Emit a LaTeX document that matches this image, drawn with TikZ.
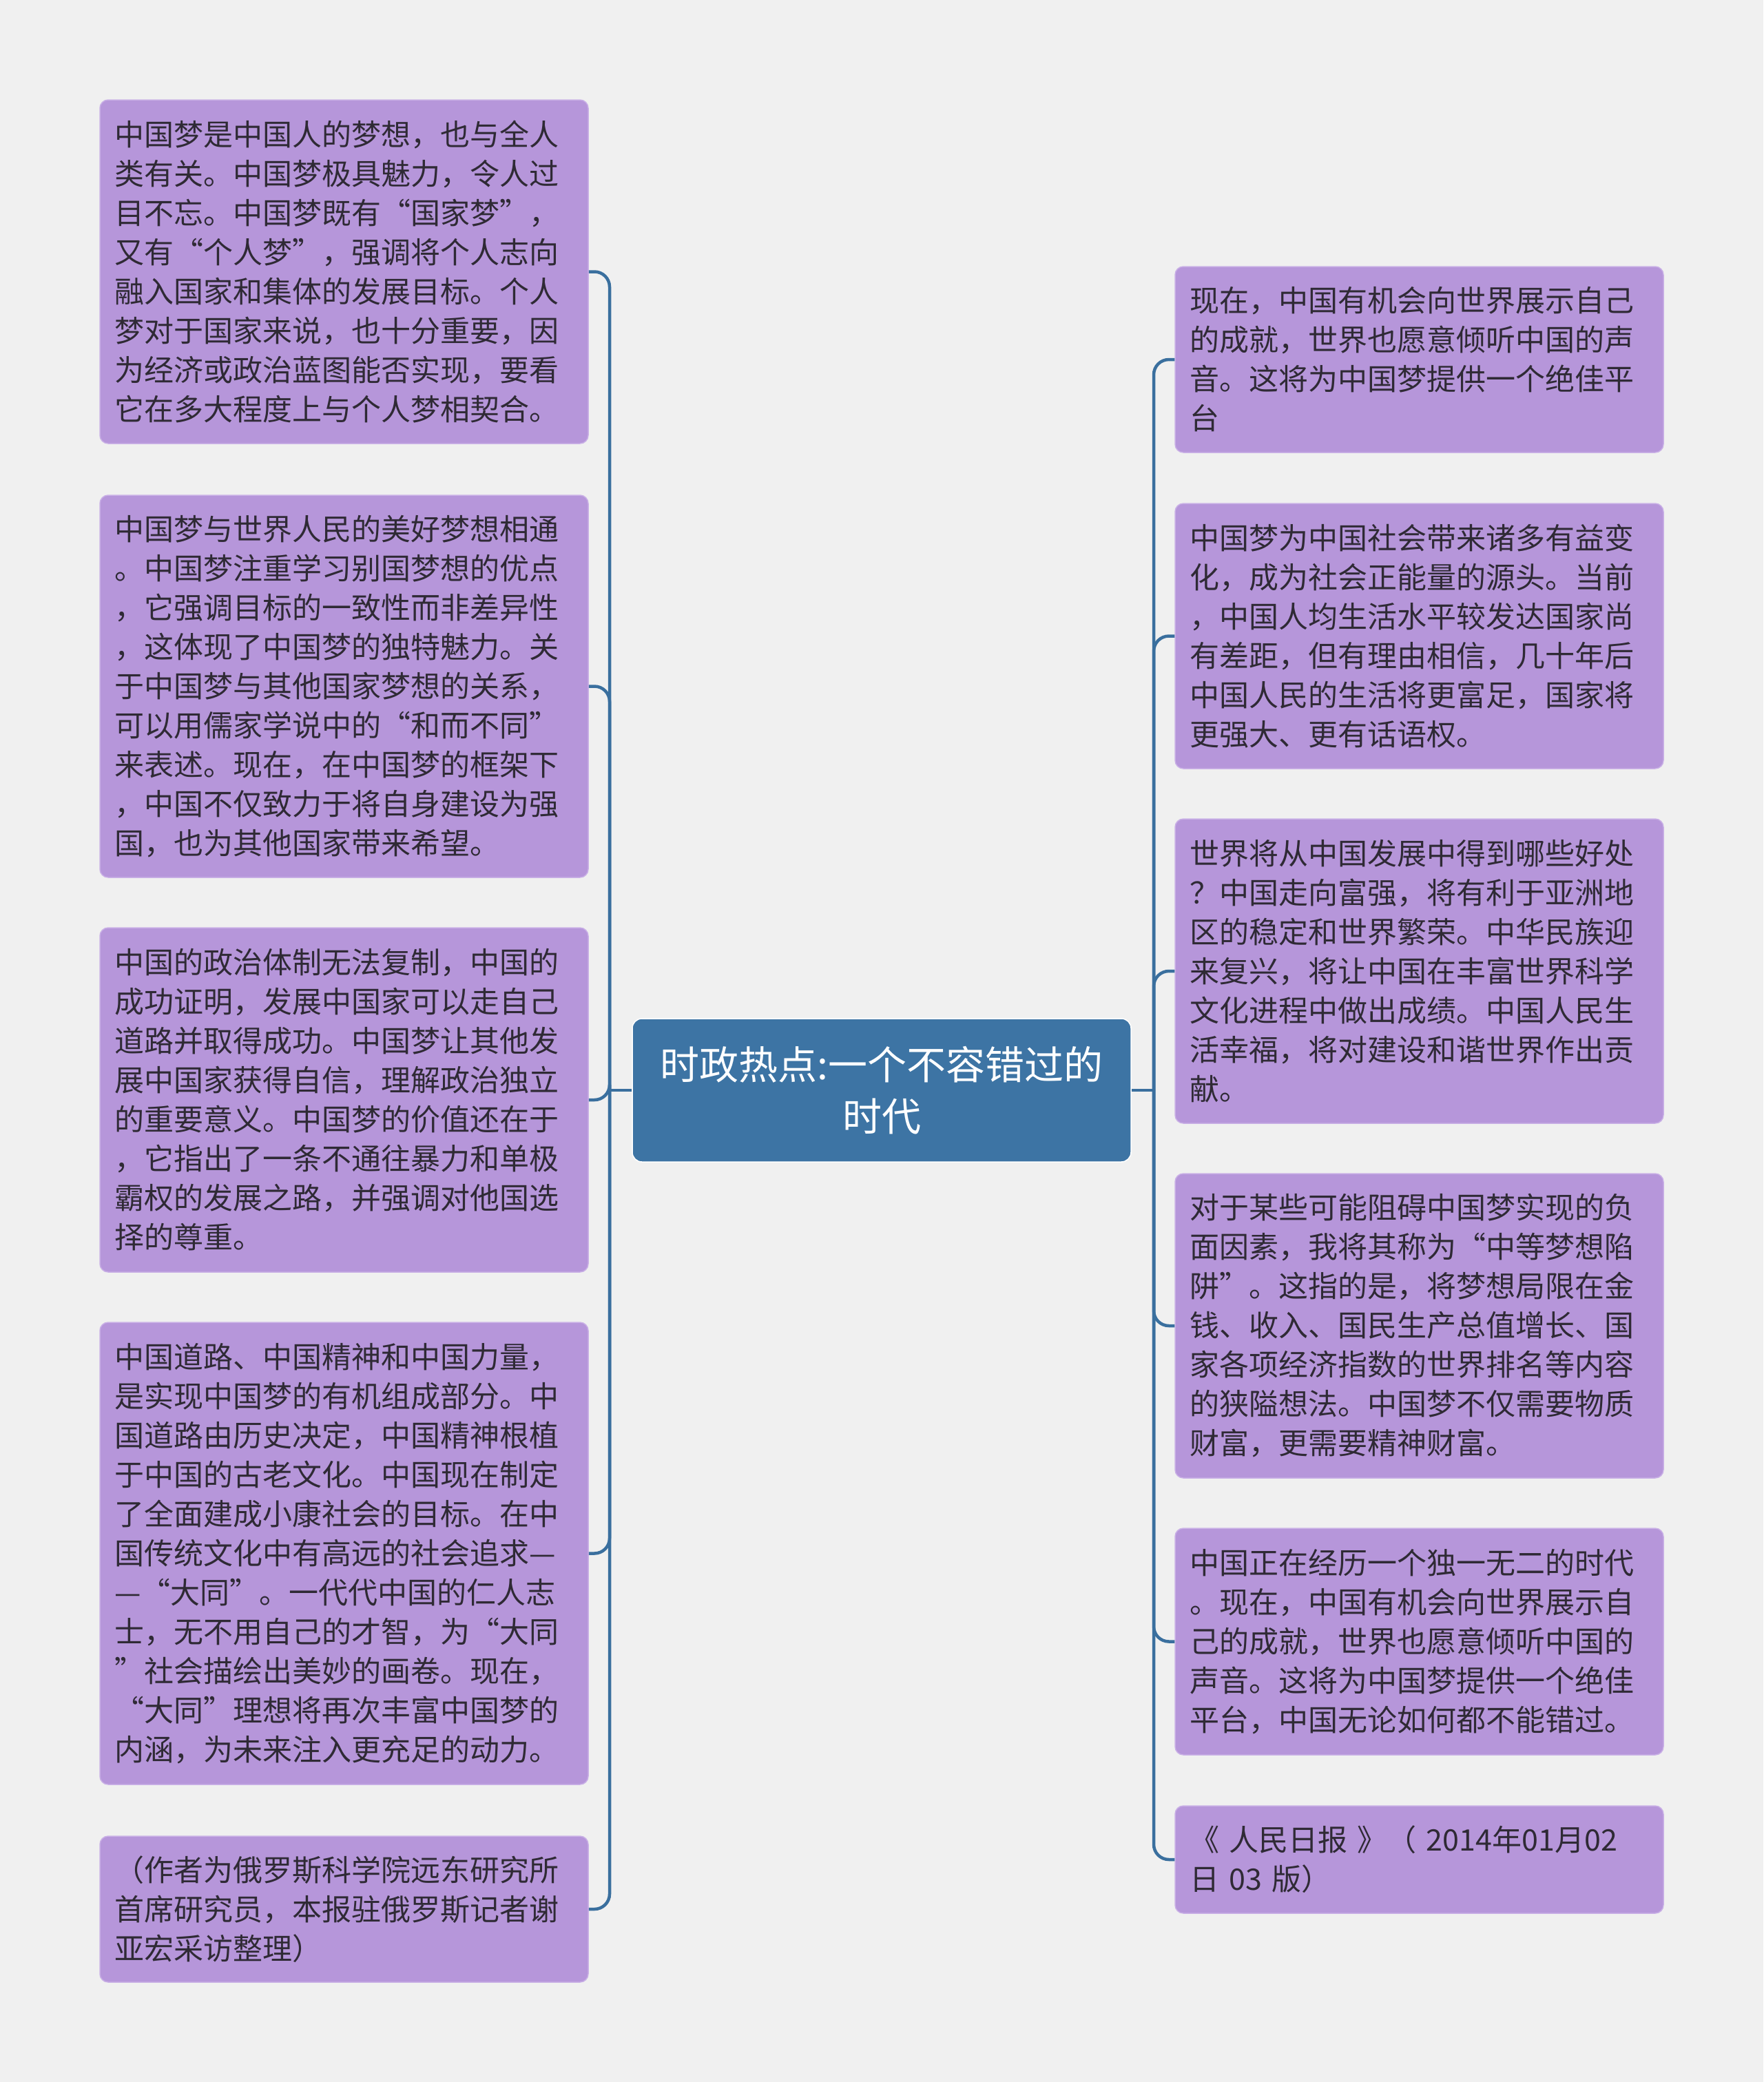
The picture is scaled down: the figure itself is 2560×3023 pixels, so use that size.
\documentclass[tikz,border=0pt]{standalone}
\usepackage{fontspec}
\setmainfont{Noto Sans CJK SC}
\definecolor{bg}{HTML}{F0F0F0}
\definecolor{leaf}{HTML}{B696DA}
\definecolor{leafline}{HTML}{C9B0E6}
\definecolor{rootfill}{HTML}{3D74A4}
\definecolor{conncol}{HTML}{3A6F9E}
\definecolor{txt}{HTML}{2F2A35}
\begin{document}
\begin{tikzpicture}[x=1pt,y=-1pt,
  leafbox/.style={draw=leafline, line width=1.5pt, fill=leaf, rounded corners=12pt,
    text=txt, font=\fontsize{43}{57}\selectfont, align=left,
    text width=667pt, inner xsep=21pt, inner ysep=0pt, minimum width=709pt},
  rootbox/.style={draw=white, line width=1.5pt, fill=rootfill, rounded corners=14pt,
    text=white, font=\fontsize{57}{75}\selectfont, align=center,
    text width=690pt, inner sep=0pt, minimum width=724pt, minimum height=208pt},
  conn/.style={draw=conncol, line width=4.5pt, rounded corners=22pt}]
\fill[bg] (0,0) rectangle (2560,3023);
\useasboundingbox (0,0) rectangle (2560,3023);

\node[rootbox] (c) at (1280,1583) {时政热点:一个不容错过的\\时代};

\node[leafbox, minimum height=499pt] (L1) at (499.5,394.5) {中国梦是中国人的梦想，也与全人\\类有关。中国梦极具魅力，令人过\\目不忘。中国梦既有“国家梦”，\\又有“个人梦”，强调将个人志向\\融入国家和集体的发展目标。个人\\梦对于国家来说，也十分重要，因\\为经济或政治蓝图能否实现，要看\\它在多大程度上与个人梦相契合。};
\node[leafbox, minimum height=555pt] (L2) at (499.5,996.5) {中国梦与世界人民的美好梦想相通\\。中国梦注重学习别国梦想的优点\\，它强调目标的一致性而非差异性\\，这体现了中国梦的独特魅力。关\\于中国梦与其他国家梦想的关系，\\可以用儒家学说中的“和而不同”\\来表述。现在，在中国梦的框架下\\，中国不仅致力于将自身建设为强\\国，也为其他国家带来希望。};
\node[leafbox, minimum height=500pt] (L3) at (499.5,1597) {中国的政治体制无法复制，中国的\\成功证明，发展中国家可以走自己\\道路并取得成功。中国梦让其他发\\展中国家获得自信，理解政治独立\\的重要意义。中国梦的价值还在于\\，它指出了一条不通往暴力和单极\\霸权的发展之路，并强调对他国选\\择的尊重。};
\node[leafbox, minimum height=671pt] (L4) at (499.5,2255.5) {中国道路、中国精神和中国力量，\\是实现中国梦的有机组成部分。中\\国道路由历史决定，中国精神根植\\于中国的古老文化。中国现在制定\\了全面建成小康社会的目标。在中\\国传统文化中有高远的社会追求—\\—“大同”。一代代中国的仁人志\\士，无不用自己的才智，为“大同\\”社会描绘出美妙的画卷。现在，\\“大同”理想将再次丰富中国梦的\\内涵，为未来注入更充足的动力。};
\node[leafbox, minimum height=212pt] (L5) at (499.5,2772) {（作者为俄罗斯科学院远东研究所\\首席研究员，本报驻俄罗斯记者谢\\亚宏采访整理）};

\node[leafbox, minimum height=270pt] (R1) at (2060.5,522) {现在，中国有机会向世界展示自己\\的成就，世界也愿意倾听中国的声\\音。这将为中国梦提供一个绝佳平\\台};
\node[leafbox, minimum height=385pt] (R2) at (2060.5,923.5) {中国梦为中国社会带来诸多有益变\\化，成为社会正能量的源头。当前\\，中国人均生活水平较发达国家尚\\有差距，但有理由相信，几十年后\\中国人民的生活将更富足，国家将\\更强大、更有话语权。};
\node[leafbox, minimum height=442pt] (R3) at (2060.5,1410) {世界将从中国发展中得到哪些好处\\？中国走向富强，将有利于亚洲地\\区的稳定和世界繁荣。中华民族迎\\来复兴，将让中国在丰富世界科学\\文化进程中做出成绩。中国人民生\\活幸福，将对建设和谐世界作出贡\\献。};
\node[leafbox, minimum height=442pt] (R4) at (2060.5,1925) {对于某些可能阻碍中国梦实现的负\\面因素，我将其称为“中等梦想陷\\阱”。这指的是，将梦想局限在金\\钱、收入、国民生产总值增长、国\\家各项经济指数的世界排名等内容\\的狭隘想法。中国梦不仅需要物质\\财富，更需要精神财富。};
\node[leafbox, minimum height=329pt] (R5) at (2060.5,2383.5) {中国正在经历一个独一无二的时代\\。现在，中国有机会向世界展示自\\己的成就，世界也愿意倾听中国的\\声音。这将为中国梦提供一个绝佳\\平台，中国无论如何都不能错过。};
\node[leafbox, minimum height=156pt] (R6) at (2060.5,2700) {《 人民日报 》（ 2014年01月02\\日 03 版）};

\coordinate (tl) at (885,1583);
\coordinate (tr) at (1675,1583);

\draw[conn] (c.west) -- (tl);
\draw[conn] (c.east) -- (tr);
\foreach \n in {L1,L2,L3,L4,L5} \draw[conn] (tl) |- (\n.east);
\foreach \n in {R1,R2,R3,R4,R5,R6} \draw[conn] (tr) |- (\n.west);
\end{tikzpicture}
\end{document}
